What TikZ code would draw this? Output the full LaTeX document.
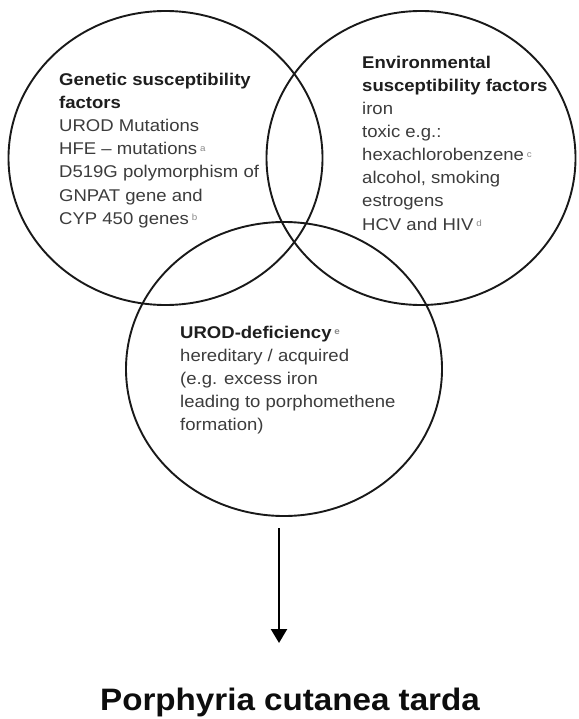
\documentclass[tikz,border=0pt]{standalone}
\usepackage{fontspec}
\setmainfont[FakeStretch=1.09]{Liberation Sans}
\newfontfamily\titlefont[FakeStretch=1.07]{Liberation Sans}
\usetikzlibrary{arrows.meta}
\definecolor{bodygray}{HTML}{3C3C3C}
\definecolor{headgray}{HTML}{1E1E1E}
\definecolor{supgray}{HTML}{8A8A8A}
\newcommand{\supl}[1]{\,{\color{supgray}\fontsize{9}{9}\selectfont\raisebox{3.5pt}{#1}}}
\tikzset{
  venn/.style={draw=black!90, line width=1.9pt},
  txt/.style={anchor=base west, inner sep=0pt, text=bodygray, font=\fontsize{17}{23}\selectfont},
  head/.style={txt, text=headgray, font=\fontsize{17}{23}\selectfont\bfseries},
  title/.style={anchor=base, inner sep=0pt, text=black!95, font=\titlefont\fontsize{31}{36}\selectfont\bfseries},
  arrowline/.style={line width=2.4pt, -{Triangle[width=16pt,length=14pt]}}
}
\begin{document}
\begin{tikzpicture}[x=1pt,y=-1pt]
\useasboundingbox (0,0) rectangle (578,719);
\fill[white] (0,0) rectangle (578,719);
% circles
\coordinate (cl) at (165.5,158);
\coordinate (cr) at (421,158);
\coordinate (cb) at (284,369);
\draw[venn] (cl) ellipse [x radius=157pt, y radius=147pt];
\draw[venn] (cr) ellipse [x radius=154.5pt, y radius=147pt];
\draw[venn] (cb) ellipse [x radius=158pt, y radius=147pt];
% left block
\node[head] (g1) at (59,86) {Genetic susceptibility};
\node[head] (g2) at (59,109) {factors};
\node[txt] (g3) at (59,132) {UROD Mutations};
\node[txt] (g4) at (59,155) {HFE -- mutations\supl{a}};
\node[txt] (g5) at (59,178) {D519G polymorphism of};
\node[txt] (g6) at (59,201) {GNPAT gene and};
\node[txt] (g7) at (59,224) {CYP 450 genes\supl{b}};
% right block
\node[head] (e1) at (362,69) {Environmental};
\node[head] (e2) at (362,92) {susceptibility factors};
\node[txt] (e3) at (362,115) {iron};
\node[txt] (e4) at (362,138) {toxic e.g.:};
\node[txt] (e5) at (362,161) {hexachlorobenzene\supl{c}};
\node[txt] (e6) at (362,184) {alcohol, smoking};
\node[txt] (e7) at (362,207) {estrogens};
\node[txt] (e8) at (362,230) {HCV and HIV\supl{d}};
% bottom block
\node[head] (u1) at (180,338) {UROD-deficiency\supl{e}};
\node[txt] (u2) at (180,361) {hereditary / acquired};
\node[txt] (u3) at (180,384) {(e.g. excess iron};
\node[txt] (u4) at (180,407) {leading to porphomethene};
\node[txt] (u5) at (180,430) {formation)};
% arrow and title
\coordinate (as) at (279,528);
\coordinate (ae) at (279,643);
\draw[arrowline] (as) -- (ae);
\node[title] (pct) at (290,710) {Porphyria cutanea tarda};
\end{tikzpicture}
\end{document}
